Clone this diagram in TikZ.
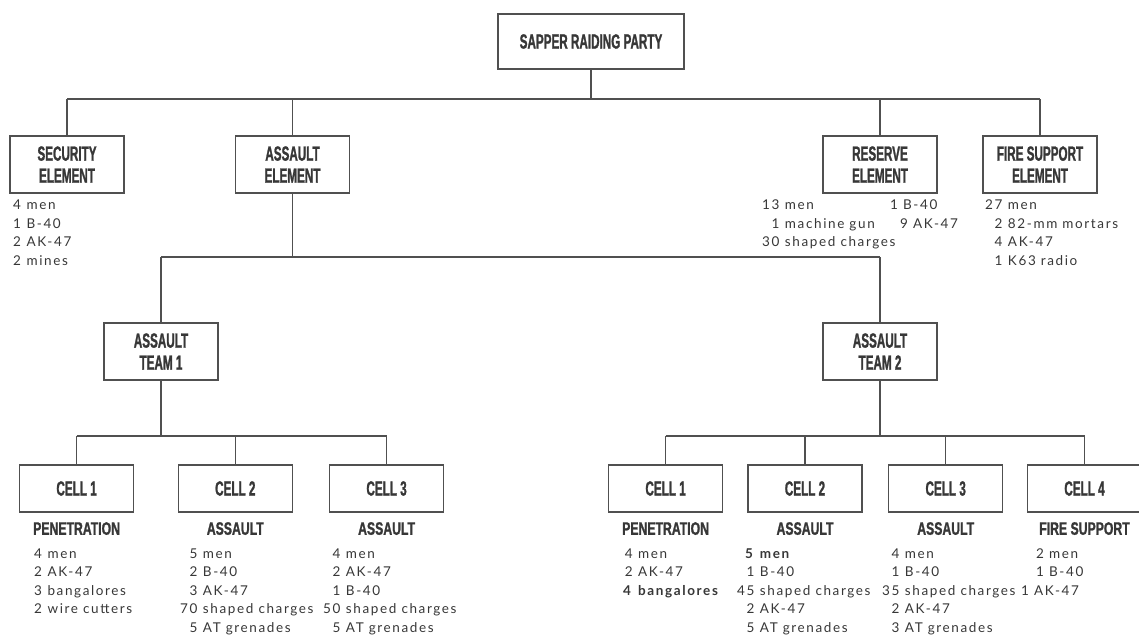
\documentclass[tikz,border=0pt]{standalone}
\usepackage{fontspec}
\setmainfont{Lato}
\newfontfamily\boxfont[FakeStretch=0.57,FakeBold=1.2]{Liberation Sans Bold}
\newfontfamily\tagfont[FakeStretch=0.68,FakeBold=1.2]{Liberation Sans Bold}
\newfontfamily\kitfont[LetterSpace=12]{Lato}
\usetikzlibrary{positioning}
\definecolor{ink}{RGB}{55,55,55}
\definecolor{rule}{RGB}{80,80,80}
\newcommand{\kit}[1]{\begin{tabular}[t]{@{}r@{\hspace{5.5pt}}l@{}}#1\end{tabular}}

\tikzset{
  unit/.style={draw=rule, line width=1.1pt, minimum width=114pt, minimum height=57pt, inner sep=0pt, align=center, text=ink, font=\boxfont\fontsize{20.5}{22}\selectfont},
  cellbox/.style={unit, minimum height=47pt},
  role/.style={inner sep=0pt, text=ink, font=\tagfont\fontsize{18}{20}\selectfont},
  kitlist/.style={inner sep=0pt, anchor=base west, text=ink, font=\kitfont\fontsize{13.5}{18.5}\selectfont},
  link/.style={draw=rule, line width=1.1pt},
}

\begin{document}
\begin{tikzpicture}[x=1pt,y=1pt,yscale=-1,xscale=1]
\useasboundingbox (0,0) rectangle (1139,636);

%Shape: Rectangle [party]
\node[unit, minimum width=186pt, minimum height=55pt] (party) at (591,41.5) {SAPPER RAIDING PARTY};

%Shape: Rectangle [elements]
\node[unit] (sec) at (67,164.5) {SECURITY\\ELEMENT};
\node[unit] (asl) at (292.5,164.5) {ASSAULT\\ELEMENT};
\node[unit] (res) at (880,164.5) {RESERVE\\ELEMENT};
\node[unit] (fire) at (1040,164.5) {FIRE SUPPORT\\ELEMENT};

%Shape: Rectangle [teams]
\node[unit] (teamA) at (161,351.5) {ASSAULT\\TEAM 1};
\node[unit] (teamB) at (880,351.5) {ASSAULT\\TEAM 2};

%Shape: Rectangle [cells of team 1]
\node[cellbox] (a1) at (76.6,488.5) {CELL 1};
\node[cellbox] (a2) at (235.3,488.5) {CELL 2};
\node[cellbox] (a3) at (386.6,488.5) {CELL 3};
%Shape: Rectangle [cells of team 2]
\node[cellbox] (b1) at (665.6,488.5) {CELL 1};
\node[cellbox] (b2) at (805,488.5) {CELL 2};
\node[cellbox] (b3) at (945.7,488.5) {CELL 3};
\node[cellbox] (b4) at (1084.5,488.5) {CELL 4};

%Straight Lines [tree]
\coordinate (topbus) at (0,99);
\coordinate (aslbus) at (0,257);
\coordinate (cellbus) at (0,436);
\draw[link] (party.south) -- (party.south |- topbus);
\draw[link] (sec.north |- topbus) -- (fire.north |- topbus);
\foreach \n in {sec,asl,res,fire} \draw[link] (\n.north) -- (\n.north |- topbus);
\draw[link] (asl.south) -- (asl.south |- aslbus);
\draw[link] (teamA.north |- aslbus) -- (teamB.north |- aslbus);
\foreach \n in {teamA,teamB} \draw[link] (\n.north) -- (\n.north |- aslbus);
\draw[link] (teamA.south) -- (teamA.south |- cellbus);
\draw[link] (a1.north |- cellbus) -- (a3.north |- cellbus);
\foreach \n in {a1,a2,a3} \draw[link] (\n.north) -- (\n.north |- cellbus);
\draw[link] (teamB.south) -- (teamB.south |- cellbus);
\draw[link] (b1.north |- cellbus) -- (b4.north |- cellbus);
\foreach \n in {b1,b2,b3,b4} \draw[link] (\n.north) -- (\n.north |- cellbus);

% Text Node [tasks]
\node[role] (ta1) at ([yshift=16pt]a1.south) {PENETRATION};
\node[role] (ta2) at ([yshift=16pt]a2.south) {ASSAULT};
\node[role] (ta3) at ([yshift=16pt]a3.south) {ASSAULT};
\node[role] (tb1) at ([yshift=16pt]b1.south) {PENETRATION};
\node[role] (tb2) at ([yshift=16pt]b2.south) {ASSAULT};
\node[role] (tb3) at ([yshift=16pt]b3.south) {ASSAULT};
\node[role] (tb4) at ([yshift=16pt]b4.south) {FIRE SUPPORT};

% Text Node [equipment]
\node[kitlist] (kSec) at (13,210) {\kit{4&men\\1&B-40\\2&AK-47\\2&mines}};
\node[kitlist] (kRes) at (762,210) {\kit{13&men\\1&machine gun\\30&shaped charges}};
\node[kitlist] (kResB) at (890,210) {\begin{tabular}[t]{@{}l@{}}1 B-40\\\hspace*{10pt}9 AK-47\end{tabular}};
\node[kitlist] (kFire) at (985,210) {\kit{27&men\\2&82-mm mortars\\4&AK-47\\1&K63 radio}};

\node[kitlist] (kA1) at (34,558) {\kit{4&men\\2&AK-47\\3&bangalores\\2&wire cutters}};
\node[kitlist] (kA2) at (180,558) {\kit{5&men\\2&B-40\\3&AK-47\\70&shaped charges\\5&AT grenades}};
\node[kitlist] (kA3) at (323,558) {\kit{4&men\\2&AK-47\\1&B-40\\50&shaped charges\\5&AT grenades}};
\node[kitlist] (kB1) at (623,558) {\kit{4&men\\2&AK-47\\\textbf{4}&\textbf{bangalores}}};
\node[kitlist] (kB2) at (737,558) {\kit{\textbf{5}&\textbf{men}\\1&B-40\\45&shaped charges\\2&AK-47\\5&AT grenades}};
\node[kitlist] (kB3) at (882,558) {\kit{4&men\\1&B-40\\35&shaped charges\\2&AK-47\\3&AT grenades}};
\node[kitlist] (kB4) at (1036,558) {\begin{tabular}[t]{@{}l@{}}2 men\\1 B-40\\\hspace*{-15pt}1 AK-47\end{tabular}};

\end{tikzpicture}
\end{document}
